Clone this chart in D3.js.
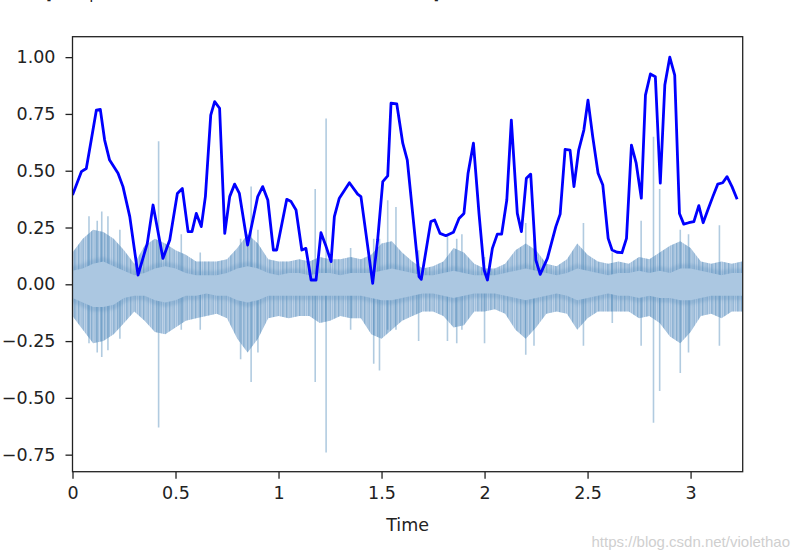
<!DOCTYPE html>
<html><head><meta charset="utf-8">
<script src="https://cdn.jsdelivr.net/npm/d3@7"></script>
<style>
html,body{margin:0;padding:0;background:#fff;}
svg{display:block;}
text{font-family:"DejaVu Sans",sans-serif;}
</style></head>
<body>
<svg id="chart" width="800" height="559"></svg>
<script>
// ---- data ----
const xTicks = [0, 0.5, 1, 1.5, 2, 2.5, 3];
const yTicks = [-0.75, -0.5, -0.25, 0, 0.25, 0.5, 0.75, 1.0];
const xDomain = [0, 3.253];
const yDomain = [-0.825, 1.09];

// normalised spectral centroid (blue line)
const centroidT = [0,0.043,0.067,0.091,0.116,0.135,0.156,0.18,0.221,0.245,0.278,0.318,0.363,0.391,0.439,0.472,0.509,0.533,0.561,0.58,0.601,0.625,0.645,0.671,0.69,0.714,0.739,0.763,0.787,0.81,0.85,0.899,0.923,0.948,0.975,0.991,1.04,1.061,1.085,1.113,1.133,1.158,1.182,1.206,1.231,1.255,1.271,1.295,1.344,1.384,1.40,1.433,1.457,1.481,1.506,1.53,1.546,1.574,1.603,1.625,1.682,1.693,1.739,1.758,1.784,1.812,1.849,1.876,1.90,1.92,1.946,1.973,1.998,2.014,2.038,2.062,2.083,2.108,2.13,2.159,2.179,2.203,2.224,2.249,2.27,2.305,2.346,2.367,2.391,2.415,2.434,2.457,2.482,2.502,2.525,2.551,2.574,2.6,2.619,2.643,2.667,2.689,2.713,2.736,2.761,2.781,2.805,2.829,2.853,2.875,2.899,2.923,2.946,2.967,2.991,3.016,3.04,3.061,3.085,3.108,3.132,3.156,3.177,3.201,3.226];
const centroidV = [0.393,0.496,0.51,0.635,0.767,0.77,0.635,0.547,0.489,0.43,0.298,0.041,0.18,0.349,0.114,0.195,0.40,0.422,0.232,0.232,0.312,0.254,0.386,0.745,0.804,0.775,0.224,0.386,0.441,0.40,0.173,0.386,0.43,0.371,0.151,0.151,0.374,0.364,0.327,0.151,0.158,0.019,0.019,0.227,0.166,0.10,0.298,0.379,0.447,0.397,0.386,0.166,0.004,0.195,0.452,0.477,0.797,0.794,0.621,0.547,0.034,0.022,0.276,0.283,0.224,0.214,0.229,0.29,0.312,0.489,0.621,0.312,0.063,0.019,0.158,0.221,0.221,0.371,0.723,0.312,0.232,0.467,0.485,0.107,0.044,0.114,0.254,0.309,0.594,0.591,0.43,0.591,0.679,0.811,0.65,0.489,0.437,0.202,0.151,0.141,0.139,0.202,0.613,0.533,0.379,0.833,0.926,0.914,0.445,0.877,1.0,0.921,0.312,0.265,0.271,0.276,0.346,0.271,0.33,0.386,0.441,0.447,0.474,0.43,0.374];

// waveform envelope, sampled every 0.05 s
const waveStep = 0.05;
const bodyTop = [0.14,0.20,0.24,0.23,0.20,0.15,0.09,0.17,0.20,0.18,
 0.15,0.13,0.10,0.10,0.10,0.11,0.16,0.22,0.18,0.11,
 0.10,0.10,0.11,0.10,0.12,0.11,0.11,0.12,0.11,0.13,
 0.18,0.19,0.14,0.10,0.07,0.08,0.10,0.16,0.14,0.09,
 0.07,0.07,0.09,0.15,0.18,0.15,0.09,0.08,0.11,0.18,
 0.13,0.10,0.09,0.10,0.09,0.12,0.11,0.14,0.17,0.19,
 0.16,0.10,0.09,0.10,0.09,0.10];
const bodyBottom = [-0.14,-0.20,-0.26,-0.25,-0.22,-0.17,-0.12,-0.16,-0.21,-0.22,
 -0.19,-0.16,-0.15,-0.14,-0.13,-0.15,-0.24,-0.30,-0.24,-0.15,
 -0.14,-0.15,-0.14,-0.14,-0.17,-0.16,-0.14,-0.15,-0.15,-0.22,
 -0.24,-0.20,-0.16,-0.14,-0.12,-0.12,-0.14,-0.19,-0.18,-0.12,
 -0.12,-0.11,-0.13,-0.20,-0.24,-0.19,-0.13,-0.12,-0.13,-0.20,
 -0.15,-0.12,-0.12,-0.12,-0.12,-0.15,-0.14,-0.17,-0.23,-0.26,
 -0.21,-0.14,-0.13,-0.15,-0.12,-0.12];
const coreTop = [0.06,0.07,0.09,0.10,0.08,0.06,0.04,0.05,0.07,0.08,
 0.07,0.05,0.04,0.04,0.04,0.05,0.07,0.08,0.07,0.05,
 0.04,0.05,0.05,0.04,0.05,0.05,0.04,0.05,0.05,0.05,
 0.06,0.07,0.06,0.05,0.04,0.04,0.05,0.06,0.05,0.04,
 0.04,0.04,0.05,0.06,0.07,0.06,0.05,0.04,0.05,0.07,
 0.06,0.05,0.04,0.05,0.05,0.06,0.05,0.06,0.05,0.07,
 0.07,0.06,0.05,0.04,0.05,0.05];
const coreBottom = [-0.06,-0.08,-0.10,-0.10,-0.09,-0.06,-0.05,-0.05,-0.07,-0.08,
 -0.07,-0.05,-0.05,-0.04,-0.05,-0.05,-0.07,-0.08,-0.07,-0.05,
 -0.05,-0.05,-0.05,-0.05,-0.05,-0.05,-0.05,-0.05,-0.05,-0.06,
 -0.07,-0.07,-0.06,-0.05,-0.04,-0.04,-0.05,-0.06,-0.05,-0.04,
 -0.04,-0.04,-0.05,-0.06,-0.07,-0.06,-0.05,-0.04,-0.05,-0.07,
 -0.06,-0.05,-0.04,-0.05,-0.05,-0.06,-0.05,-0.06,-0.06,-0.07,
 -0.07,-0.06,-0.05,-0.05,-0.05,-0.05];
// isolated peaks: time, positive peak, negative peak
const spikeT   = [0.08,0.12,0.142,0.172,0.23,0.418,0.528,0.62,0.816,0.867,0.9,1.178,1.231,1.35,1.462,1.49,1.53,1.57,1.68,1.82,1.865,1.89,2.0,2.2,2.24,2.48,2.62,2.76,2.82,2.85,2.95,2.99,3.14];
const spikeTop = [0.30,0.28,0.32,0.30,0.24,0.63,0.22,0.14,0.20,0.43,0.24,0.42,0.73,0.16,0.20,0.20,0.37,0.34,0.15,0.22,0.20,0.22,0.12,0.27,0.20,0.27,0.14,0.28,0.65,0.42,0.24,0.22,0.26];
const spikeBot = [-0.26,-0.30,-0.32,-0.29,-0.24,-0.63,-0.20,-0.20,-0.33,-0.43,-0.30,-0.43,-0.74,-0.20,-0.35,-0.38,-0.20,-0.20,-0.25,-0.25,-0.26,-0.20,-0.26,-0.31,-0.27,-0.27,-0.17,-0.27,-0.61,-0.47,-0.39,-0.30,-0.27];

// ---- layout ----
const svg = d3.select("#chart");
const L = 72.5, R = 742.7, T = 36.7, B = 471.7;
const x = d3.scaleLinear().domain(xDomain).range([L, R]);
const y = d3.scaleLinear().domain(yDomain).range([B, T]);

// output line of the notebook, cut off at the top edge as in the reference
svg.append("text").attr("x", 44).attr("y", -1)
  .style("font-family", "'DejaVu Sans Mono', monospace").style("font-size", "15px")
  .attr("fill", "#222").text("[<matplotlib.lines.Line2D at 0x1f6c3b2a9d0>]");

const defs = svg.append("defs");
defs.append("clipPath").attr("id", "clip").append("rect")
  .attr("x", L).attr("y", T).attr("width", R - L).attr("height", B - T);
defs.append("filter").attr("id", "soft").attr("x", "-5%").attr("y", "-50%").attr("width", "110%").attr("height", "200%")
  .append("feGaussianBlur").attr("stdDeviation", 1.6);
const pat = defs.append("pattern").attr("id", "streaks")
  .attr("patternUnits", "userSpaceOnUse").attr("width", 13).attr("height", 20);
[[0, 1.5, 0.45], [2.6, 1.0, 0.30], [4.5, 1.3, 0.40], [7.2, 0.9, 0.28], [9.1, 1.6, 0.42], [11.5, 0.8, 0.30]]
  .forEach(([px, w, o]) => pat.append("rect").attr("x", px).attr("y", 0).attr("width", w).attr("height", 20)
    .attr("fill", `rgba(70,130,180,${o})`));

const g = svg.append("g").attr("clip-path", "url(#clip)");

const wave = bodyTop.map((v, i) => ({t: Math.min(i * waveStep, xDomain[1]), top: v, bot: bodyBottom[i], ct: coreTop[i], cb: coreBottom[i]}));

const bodyArea = d3.area().x(d => x(d.t)).y0(d => y(d.bot)).y1(d => y(d.top)).curve(d3.curveLinear);
const coreArea = d3.area().x(d => x(d.t)).y0(d => y(d.cb)).y1(d => y(d.ct)).curve(d3.curveLinear);

g.append("path").datum(wave).attr("d", bodyArea).attr("fill", "#bdd2e7");
g.append("path").datum(wave).attr("d", bodyArea).attr("fill", "url(#streaks)");

// spikes
g.selectAll("line.spike").data(spikeT).join("line").attr("class", "spike")
  .attr("x1", d => x(d)).attr("x2", d => x(d))
  .attr("y1", (d, i) => y(spikeTop[i])).attr("y2", (d, i) => y(spikeBot[i]))
  .attr("stroke", "rgba(70,130,180,0.42)").attr("stroke-width", 1.6);

// soft darker zone of dense edges around the core band, then the core
g.append("path").datum(wave).attr("d", coreArea).attr("fill", "none")
  .attr("stroke", "rgba(80,135,185,0.28)").attr("stroke-width", 9).attr("stroke-linejoin", "round")
  .attr("filter", "url(#soft)");
g.append("path").datum(wave).attr("d", coreArea).attr("fill", "#abc7e1");

// centroid line
const lineData = centroidT.map((t, i) => ({t, v: centroidV[i]}));
g.append("path").datum(lineData)
  .attr("d", d3.line().x(d => x(d.t)).y(d => y(d.v)))
  .attr("fill", "none").attr("stroke", "#0000ff").attr("stroke-width", 2.8)
  .attr("stroke-linejoin", "round").attr("stroke-linecap", "butt");

// axes
const fs = "17.5px";
const xAxis = svg.append("g").attr("transform", `translate(0,${B})`)
  .call(d3.axisBottom(x).tickValues(xTicks).tickFormat(d => String(d)).tickSize(7).tickPadding(8));
const yAxis = svg.append("g").attr("transform", `translate(${L},0)`)
  .call(d3.axisLeft(y).tickValues(yTicks).tickFormat(d3.format(".2f")).tickSize(7).tickPadding(10));
[xAxis, yAxis].forEach(a => {
  a.select(".domain").remove();
  a.selectAll(".tick line").attr("stroke", "#222").attr("stroke-width", 1.3);
  a.selectAll(".tick text").attr("fill", "#222").style("font-size", fs).style("font-family", "'DejaVu Sans', sans-serif");
});

// frame
svg.append("rect").attr("x", L).attr("y", T).attr("width", R - L).attr("height", B - T)
  .attr("fill", "none").attr("stroke", "#222").attr("stroke-width", 1.3);

// x label
svg.append("text").attr("x", (L + R) / 2).attr("y", 531).attr("text-anchor", "middle")
  .attr("fill", "#222").style("font-size", fs).text("Time");

// watermark
svg.append("text").attr("x", 790).attr("y", 547).attr("text-anchor", "end")
  .style("font-family", "'Liberation Sans', Arial, sans-serif").style("font-size", "15px")
  .attr("fill", "#cfcfcf").text("https://blog.csdn.net/violethao");
</script>
</body></html>
